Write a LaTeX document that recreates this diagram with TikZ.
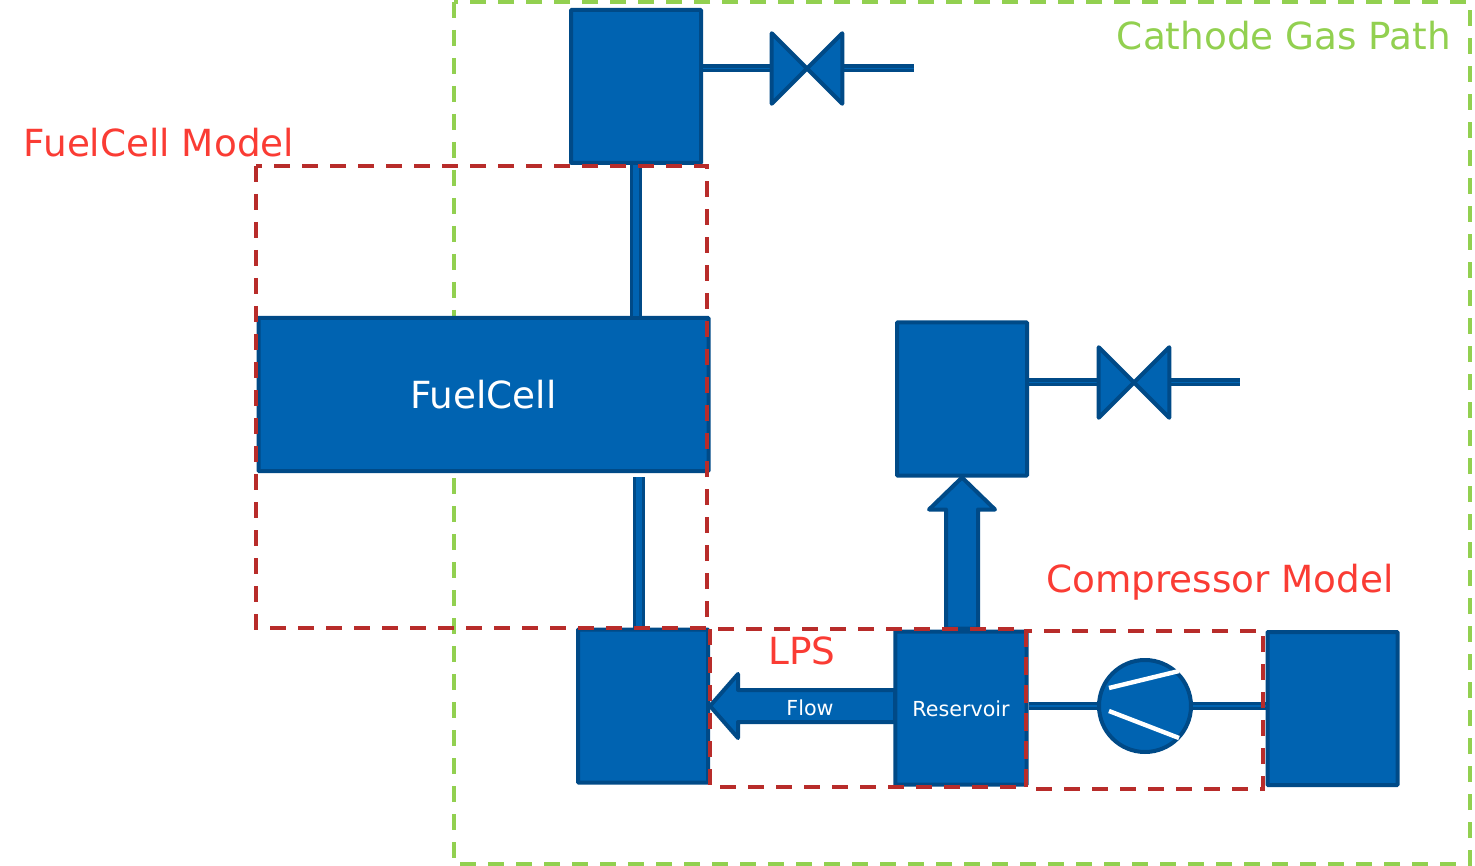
\documentclass[tikz,border=0pt]{standalone}
\usepackage{fontspec}
\setmainfont{DejaVu Sans}
\usetikzlibrary{shapes,arrows,positioning,calc,fit}
\definecolor{plantblue}{RGB}{0,99,177}
\definecolor{edgeblue}{RGB}{0,74,135}
\definecolor{modelred}{RGB}{184,44,42}
\definecolor{labelred}{RGB}{250,60,52}
\definecolor{pathgreen}{RGB}{146,208,80}

\begin{document}
\begin{tikzpicture}[
    x=0.75pt, y=-0.75pt,
    tank/.style={draw=edgeblue, fill=plantblue, line width=3pt, rounded corners=0.5pt, minimum width=97.5pt, minimum height=114.75pt, inner sep=0pt, text=white, font=\fontsize{15.5}{18}\selectfont},
    valve/.style={minimum width=52.5pt, minimum height=52.5pt, inner sep=0pt},
    valvebody/.style={draw=edgeblue, fill=plantblue, line width=3pt, line join=round},
    pipe/.style={draw=edgeblue, line width=6pt},
    pipecore/.style={draw=plantblue, line width=#1},
    bigarrow/.style={draw=edgeblue, fill=plantblue, line width=3pt, line join=round},
    modelbox/.style={draw=modelred, line width=2.6pt, dash pattern=on 12pt off 9pt},
    pathbox/.style={draw=pathgreen, line width=2.6pt, dash pattern=on 12pt off 9pt},
    modellabel/.style={text=labelred, inner sep=0pt, font=\fontsize{28}{32}\selectfont}
]

\path[use as bounding box] (0,0) rectangle (1475,866);

% Cathode gas path
\node[draw=none, inner sep=0pt] (pathtl) at (454,2) {};
\node[draw=none, inner sep=0pt] (pathbr) at (1470,864) {};
\draw[pathbox] (pathtl) rectangle (pathbr);
\node[modellabel, text=pathgreen, anchor=east] (pathlabel) at (1451,35.5) {Cathode Gas Path};

% Tanks and stack
\node[tank] (tanktop) at (636,86.5) {};
\node[tank] (tankmid) at (962,399) {};
\node[tank] (tanklps) at (643,706) {};
\node[tank] (ambient) at (1332.5,708.5) {};
\node[tank, minimum width=337.5pt, font=\fontsize{28}{32}\selectfont] (fuelcell) at (483.5,394.5) {FuelCell};

% Valves
\node[valve] (valvetop) at (807,68.5) {};
\node[valve] (valvemid) at (1134,382.5) {};
\coordinate (outtop) at (914,68.5);
\coordinate (outmid) at (1240,382.5);
\coordinate (stackout) at (638.5,477);

% Pipes
\draw[pipe] (valvetop -| tanktop.east) -- (valvetop.west);
\draw[pipe] (valvetop.east) -- (outtop);
\draw[pipe] (valvemid -| tankmid.east) -- (valvemid.west);
\draw[pipe] (valvemid.east) -- (outmid);
\draw[pipecore=1pt] (valvetop -| tanktop.east) -- (valvetop.west);
\draw[pipecore=1pt] (valvetop.east) -- (outtop);
\draw[pipecore=1pt] (valvemid -| tankmid.east) -- (valvemid.west);
\draw[pipecore=1pt] (valvemid.east) -- (outmid);
\draw[pipe, line width=9pt] (tanktop.south) -- (tanktop.south |- fuelcell.north);
\draw[pipecore=4.5pt] (tanktop.south) -- (tanktop.south |- fuelcell.north);
\draw[pipe, line width=9pt] (stackout) -- (stackout |- tanklps.north);
\draw[pipecore=4.5pt] (stackout) -- (stackout |- tanklps.north);

% Valve bodies
\foreach \v in {valvetop,valvemid}
    \draw[valvebody] (\v.north west) -- (\v.south east) -- (\v.north east) -- (\v.south west) -- cycle;

% Flow arrows
\draw[bigarrow] (tankmid.south) -- ++(33,32) -- ++(-17,0) -- ++(0,119) -- ++(-32,0) -- ++(0,-119) -- ++(-17,0) -- cycle;
\draw[bigarrow] (tanklps.east) -- ++(28,-32) -- ++(0,16) -- ++(157,0) -- ++(0,32) -- ++(-157,0) -- ++(0,16) -- cycle;
\node[text=white, inner sep=0pt, font=\fontsize{15.5}{18}\selectfont] (flowlabel) at (810,707.5) {Flow};
\node[tank, minimum width=98.5pt, text depth=0pt] (reservoir) at (961,708) {\raisebox{-1.2pt}{Reservoir}};

% Compressor
\node[circle, draw=edgeblue, fill=plantblue, line width=3pt, minimum size=69pt, inner sep=0pt] (compressor) at (1145,706) {};
\draw[pipe] (reservoir.east |- compressor) -- (compressor.west);
\draw[pipe] (compressor.east) -- (compressor -| ambient.west);
\draw[pipecore=1pt] (reservoir.east |- compressor) -- (compressor.west);
\draw[pipecore=1pt] (compressor.east) -- (compressor -| ambient.west);
\draw[white, line width=3.3pt] (1109,688) -- (1179,671);
\draw[white, line width=3.3pt] (1109,711) -- (1179,738);

% Model boundaries
\node[draw=none, inner sep=0pt] (fcmodeltl) at (256,166) {};
\node[draw=none, inner sep=0pt] (fcmodelbr) at (707,628) {};
\node[draw=none, inner sep=0pt] (lpstl) at (710,629) {};
\node[draw=none, inner sep=0pt] (lpsbr) at (1026,787) {};
\node[draw=none, inner sep=0pt] (comptl) at (1026,631) {};
\node[draw=none, inner sep=0pt] (compbr) at (1263,789) {};
\draw[modelbox] (fcmodeltl) rectangle (fcmodelbr);
\draw[modelbox] (lpstl) rectangle (lpsbr);
\draw[modelbox] (comptl) rectangle (compbr);

% Labels
\node[modellabel] (fclabel) at (159,142.5) {FuelCell Model};
\node[modellabel] (lpslabel) at (802,651) {LPS};
\node[modellabel] (complabel) at (1220,582.5) {Compressor Model};

\end{tikzpicture}
\end{document}
